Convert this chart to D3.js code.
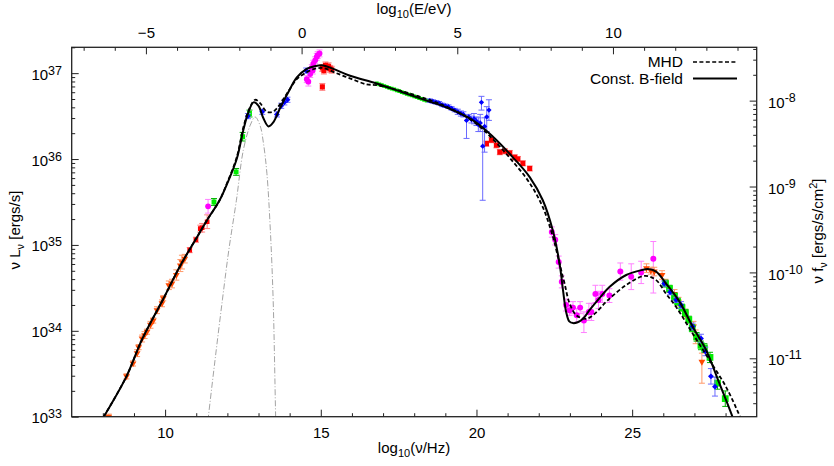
<!DOCTYPE html>
<html>
<head>
<meta charset="utf-8">
<script src="https://cdn.jsdelivr.net/npm/d3@7"></script>
<style>
  body { margin: 0; background: #fff; }
  text { font-family: "Liberation Sans", Arial, sans-serif; fill: #000; }
</style>
</head>
<body>
<svg id="chart" width="834" height="466"></svg>
<script>
// Crab nebula SED: log10(nu/Hz) vs log10(nu L_nu / erg s^-1)

const xDomain = [7, 29];
const yDomain = [1e33, 2e37];
const logHzPerEv = 14.3835;   // log10(eV/h)
const log4piD2 = 44.68;       // d = 2 kpc

// --- model curves (log nu, log nuLnu) ---
const constBNu = [8.03, 8.76, 9.26, 9.94, 10.49, 10.99, 11.35, 11.75, 12.0, 12.3, 12.52, 12.68, 12.84, 13.0, 13.15, 13.32, 13.48, 13.7, 13.96, 14.23, 14.55, 14.8, 15.08, 15.4, 15.94, 16.79, 17.6, 18.4, 19.04, 19.89, 20.53, 21.17, 21.71, 22.13, 22.45, 22.67, 22.78, 22.88, 22.98, 23.10, 23.25, 23.42, 23.63, 23.95, 24.27, 24.81, 25.34, 25.50, 25.77, 26.09, 26.52, 26.94, 27.37, 27.80, 28.22, 28.4];
const constBL  = [33.0, 33.47, 33.9, 34.37, 34.76, 35.07, 35.29, 35.52, 35.72, 36.0, 36.35, 36.55, 36.66, 36.62, 36.48, 36.38, 36.43, 36.60, 36.78, 36.95, 37.05, 37.08, 37.09, 37.05, 36.97, 36.88, 36.78, 36.68, 36.60, 36.45, 36.26, 36.02, 35.79, 35.52, 35.17, 34.78, 34.47, 34.22, 34.11, 34.09, 34.10, 34.14, 34.24, 34.38, 34.51, 34.65, 34.71, 34.72, 34.69, 34.55, 34.34, 34.05, 33.78, 33.39, 33.0, 32.8];

const mhdNu = [8.03, 8.76, 9.26, 9.94, 10.49, 10.99, 11.35, 11.75, 12.0, 12.3, 12.52, 12.7, 12.89, 13.05, 13.27, 13.45, 13.59, 13.91, 14.23, 14.55, 14.8, 15.08, 15.5, 16.0, 16.47, 16.8, 17.6, 18.4, 19.04, 19.89, 20.53, 21.17, 21.71, 22.13, 22.45, 22.67, 22.83, 22.99, 23.21, 23.53, 23.8, 24.2, 24.8, 25.4, 25.77, 26.09, 26.41, 26.94, 27.48, 28.01, 28.44, 28.6];
const mhdL  = [33.0, 33.47, 33.9, 34.37, 34.76, 35.07, 35.29, 35.52, 35.73, 36.02, 36.38, 36.58, 36.69, 36.65, 36.55, 36.55, 36.59, 36.76, 36.93, 37.01, 37.05, 37.06, 37.0, 36.93, 36.87, 36.86, 36.79, 36.70, 36.61, 36.44, 36.23, 35.97, 35.72, 35.44, 35.10, 34.78, 34.55, 34.32, 34.18, 34.14, 34.2, 34.35, 34.53, 34.64, 34.59, 34.43, 34.28, 33.97, 33.66, 33.35, 33.02, 32.88];

const dustNu = [11.3, 11.39, 11.6, 11.84, 12.05, 12.29, 12.51, 12.73, 12.89, 13.05, 13.16, 13.27, 13.38, 13.47, 13.55, 13.6];
const dustL  = [32.7, 33.0, 33.65, 34.36, 34.95, 35.52, 36.1, 36.39, 36.49, 36.39, 36.18, 35.83, 35.17, 34.36, 33.0, 32.2];

// --- observations: [log nu, log nuLnu, err down (dex), err up (dex)] ---
const radioOrange = [[8.19,33.0,0.03,0.03],[8.76,33.47,0.03,0.03],[8.97,33.62,0.03,0.03],[9.10,33.74,0.04,0.04],[9.15,33.81,0.03,0.03],[9.26,33.91,0.04,0.04],[9.34,33.95,0.04,0.04],[9.42,33.99,0.03,0.03],[9.53,34.07,0.04,0.04],[9.62,34.12,0.03,0.03],[9.74,34.24,0.04,0.04],[9.90,34.32,0.04,0.04],[9.94,34.38,0.03,0.03],[10.12,34.53,0.05,0.05],[10.22,34.55,0.05,0.05],[10.36,34.65,0.06,0.06],[10.49,34.76,0.07,0.07],[10.54,34.80,0.08,0.08],[10.63,34.84,0.05,0.05]];
const radioRed = [[10.79,34.94,0.03,0.03],[10.99,35.06,0.03,0.03],[11.13,35.19,0.04,0.04],[11.19,35.20,0.05,0.05],[11.35,35.27,0.08,0.08]];
const opticalRed = [[15.05,37.06,0.04,0.04],[15.10,37.03,0.04,0.04],[15.15,37.09,0.04,0.04],[15.20,37.07,0.04,0.04],[15.25,37.08,0.04,0.04],[15.30,37.05,0.04,0.04],[15.35,37.04,0.04,0.04],[15.05,36.84,0.04,0.04]];
const hardXRed = [[20.32,36.18,0.03,0.03],[20.48,36.22,0.03,0.03],[20.64,36.16,0.03,0.03],[20.75,36.08,0.03,0.03],[20.91,36.09,0.03,0.03],[21.07,36.07,0.03,0.03],[21.23,36.02,0.03,0.03],[21.33,36.00,0.03,0.03],[21.49,35.95,0.03,0.03],[21.71,35.89,0.03,0.03]];
const magentaIR = [[11.38,35.45,0.08,0.08]];
const magentaOpt = [[14.55,36.93,0.04,0.04],[14.60,36.90,0.05,0.05],[14.66,36.99,0.04,0.04],[14.71,37.06,0.04,0.04],[14.74,37.03,0.04,0.04],[14.76,37.11,0.04,0.04],[14.82,37.15,0.04,0.04],[14.87,37.19,0.04,0.04],[14.90,37.21,0.04,0.04],[14.96,37.23,0.04,0.04]];
const magentaGamma = [[22.42,35.15,0.06,0.06],[22.53,35.06,0.06,0.06],[22.64,34.80,0.07,0.07],[22.74,34.57,0.07,0.07],[22.88,34.30,0.07,0.07],[22.99,34.24,0.06,0.06],[23.10,34.27,0.07,0.07],[23.22,34.18,0.08,0.08],[23.33,34.27,0.07,0.07],[23.45,34.12,0.14,0.1],[23.61,34.22,0.1,0.1],[23.69,34.22,0.1,0.1],[23.82,34.43,0.1,0.1],[23.92,34.36,0.1,0.1],[24.04,34.43,0.1,0.1],[24.27,34.41,0.08,0.08],[24.62,34.69,0.1,0.1],[24.97,34.63,0.15,0.15],[25.29,34.68,0.13,0.13],[25.68,34.84,0.4,0.2]];
const greenIR = [[11.57,35.50,0.04,0.04],[12.28,35.85,0.04,0.04],[12.49,36.26,0.05,0.05],[12.71,36.53,0.04,0.04]];
const greenSoftX = [[16.80,36.88],[16.88,36.87],[16.96,36.86],[17.04,36.85],[17.12,36.84],[17.20,36.83],[17.28,36.82],[17.36,36.81],[17.44,36.80],[17.52,36.79],[17.60,36.78],[17.68,36.77],[17.76,36.76],[17.84,36.75],[17.92,36.74],[18.00,36.73],[18.08,36.72],[18.16,36.71],[18.24,36.70],[18.32,36.69],[18.40,36.68]];
const greenTeV = [[26.07,34.55,0.04,0.04],[26.20,34.49,0.04,0.04],[26.36,34.40,0.04,0.04],[26.46,34.34,0.04,0.04],[26.60,34.27,0.04,0.04],[26.71,34.21,0.04,0.04],[26.82,34.13,0.04,0.04],[26.93,34.03,0.04,0.04],[27.07,33.93,0.05,0.05],[27.21,33.83,0.05,0.05],[27.32,33.80,0.05,0.05],[27.50,33.69,0.06,0.06],[27.74,33.39,0.07,0.07],[27.99,33.21,0.09,0.09]];
const blueOpt = [[12.66,36.50,0.03,0.03],[13.12,36.55,0.03,0.03],[13.59,36.52,0.03,0.03],[13.73,36.62,0.03,0.03],[13.83,36.66,0.03,0.03],[13.93,36.69,0.03,0.03],[14.53,37.03,0.03,0.03]];
const blueX = [[18.50,36.68,0.02,0.02],[18.60,36.67,0.02,0.02],[18.70,36.66,0.02,0.02],[18.80,36.65,0.02,0.02],[18.90,36.63,0.02,0.02],[19.00,36.62,0.02,0.02],[19.10,36.61,0.02,0.02],[19.20,36.59,0.02,0.02],[19.30,36.57,0.02,0.02],[19.40,36.55,0.03,0.03],[19.50,36.53,0.03,0.03],[19.58,36.52,0.03,0.03],[19.68,36.45,0.21,0.05],[19.75,36.49,0.03,0.03],[19.84,36.46,0.04,0.04],[19.92,36.47,0.06,0.06],[20.00,36.44,0.05,0.05],[20.06,36.40,0.08,0.08],[20.12,36.42,0.1,0.1],[20.16,36.66,0.09,0.07],[20.20,36.15,0.63,0.23],[20.26,36.38,0.3,0.1],[20.33,36.49,0.17,0.12],[20.40,36.57,0.12,0.12]];
const orangeTeV = [[25.46,34.73,0.05,0.05],[25.60,34.70,0.04,0.04],[25.71,34.69,0.05,0.05],[25.96,34.65,0.05,0.05],[26.07,34.56,0.04,0.04],[26.36,34.43,0.05,0.05],[26.49,34.34,0.05,0.05],[26.71,34.20,0.05,0.05],[26.97,34.05,0.06,0.06],[27.04,33.93,0.08,0.08],[27.24,33.64,0.25,0.1]];
const blueTeV = [[26.03,34.55,0.03,0.03],[26.22,34.45,0.03,0.03],[26.41,34.36,0.03,0.03],[26.57,34.30,0.04,0.04],[26.94,34.05,0.04,0.04],[27.21,33.91,0.05,0.05],[27.35,33.76,0.05,0.05],[27.53,33.47,0.09,0.09],[27.66,33.35,0.11,0.11]];

const bottomMajor = [10, 15, 20, 25];
const topMajor = [-5, 0, 5, 10];
const leftMajorExp = [33, 34, 35, 36, 37];
const rightMajorExp = [-11, -10, -9, -8];

// --- layout ---
const plot = { left: 71.7, right: 756.7, top: 47.3, bottom: 416.7 };
const svg = d3.select("#chart");

const x = d3.scaleLinear().domain(xDomain).range([plot.left, plot.right]);
const y = d3.scaleLog().domain(yDomain).range([plot.bottom, plot.top]);
const xTop = d3.scaleLinear().domain(xDomain.map(v => v - logHzPerEv)).range([plot.left, plot.right]);
const yRight = d3.scaleLog().domain(yDomain.map(v => v / Math.pow(10, log4piD2))).range([plot.bottom, plot.top]);

const logMinors = (scale, e0, e1) => {
  const [lo, hi] = scale.domain();
  const out = [];
  for (let e = e0; e <= e1; e++)
    for (let m = 2; m <= 9; m++) {
      const v = m * Math.pow(10, e);
      if (v > lo && v < hi * 1.0001) out.push(v);
    }
  return out;
};

const styleAxis = g => {
  g.select(".domain").remove();
  g.selectAll("line").attr("stroke", "#222").attr("stroke-width", 1);
  g.selectAll("text").style("font-size", "15px").attr("fill", "#000");
};

// bottom axis
svg.append("g").attr("transform", `translate(0,${plot.bottom})`)
  .call(d3.axisBottom(x).tickValues(bottomMajor).tickSize(-7).tickPadding(11).tickFormat(d3.format("d")))
  .call(styleAxis);
svg.append("g").attr("transform", `translate(0,${plot.bottom})`)
  .call(d3.axisBottom(x).tickValues(d3.range(8, 29).filter(v => !bottomMajor.includes(v))).tickSize(-3.5).tickFormat(""))
  .call(styleAxis);

// top axis
svg.append("g").attr("transform", `translate(0,${plot.top})`)
  .call(d3.axisTop(xTop).tickValues(topMajor).tickSize(-7).tickPadding(9).tickFormat(d3.format("d")))
  .call(styleAxis);
svg.append("g").attr("transform", `translate(0,${plot.top})`)
  .call(d3.axisTop(xTop).tickValues(d3.range(-7, 15).filter(v => !topMajor.includes(v))).tickSize(-3.5).tickFormat(""))
  .call(styleAxis);

// left axis
svg.append("g").attr("transform", `translate(${plot.left},0)`)
  .call(d3.axisLeft(y).tickValues(leftMajorExp.map(e => Math.pow(10, e))).tickSize(-7).tickFormat(""))
  .call(styleAxis);
svg.append("g").attr("transform", `translate(${plot.left},0)`)
  .call(d3.axisLeft(y).tickValues(logMinors(y, 33, 37)).tickSize(-3.5).tickFormat(""))
  .call(styleAxis);

// right axis
svg.append("g").attr("transform", `translate(${plot.right},0)`)
  .call(d3.axisRight(yRight).tickValues(rightMajorExp.map(e => Math.pow(10, e))).tickSize(-7).tickFormat(""))
  .call(styleAxis);
svg.append("g").attr("transform", `translate(${plot.right},0)`)
  .call(d3.axisRight(yRight).tickValues(logMinors(yRight, -12, -8)).tickSize(-3.5).tickFormat(""))
  .call(styleAxis);

// power-of-ten labels
leftMajorExp.forEach(e => {
  const t = svg.append("text")
    .attr("x", 62).attr("y", y(Math.pow(10, e)) + 6.5)
    .attr("text-anchor", "end").style("font-size", "15px");
  t.append("tspan").text("10");
  t.append("tspan").attr("dy", -5).style("font-size", "12.5px").text(e);
});
rightMajorExp.forEach(e => {
  const t = svg.append("text")
    .attr("x", 768).attr("y", yRight(Math.pow(10, e)) + 7.2)
    .style("font-size", "15px");
  t.append("tspan").text("10");
  t.append("tspan").attr("dy", -6).style("font-size", "12.5px").text(e);
});

// axis titles
const title = (tx, ty, rot, parts) => {
  const t = svg.append("text")
    .attr("transform", `translate(${tx},${ty}) rotate(${rot})`)
    .attr("text-anchor", "middle").style("font-size", "15px");
  let shift = 0;
  parts.forEach(([s, kind]) => {
    const dy = kind === "sub" ? 4 : kind === "sup" ? -6 : 0;
    t.append("tspan").attr("dy", dy - shift)
      .style("font-size", kind ? "11px" : "15px").text(s);
    shift = dy;
  });
};
title(414, 453, 0, [["log"], ["10", "sub"], ["(\u03bd/Hz)"]]);
title(414, 13.5, 0, [["log"], ["10", "sub"], ["(E/eV)"]]);
title(19.5, 230, -90, [["\u03bd L"], ["\u03bd", "sub"], [" [ergs/s]"]]);
title(823, 231, -90, [["\u03bd f"], ["\u03bd", "sub"], [" [ergs/s/cm"], ["2", "sup"], ["]"]]);

// --- plot content ---
svg.append("clipPath").attr("id", "clip")
  .append("rect")
  .attr("x", plot.left).attr("y", plot.top)
  .attr("width", plot.right - plot.left).attr("height", plot.bottom - plot.top);
const inner = svg.append("g").attr("clip-path", "url(#clip)");

const line = d3.line()
  .x(d => x(d[0]))
  .y(d => y(Math.pow(10, d[1])))
  .curve(d3.curveCatmullRom.alpha(0.5));

inner.append("path").datum(d3.zip(dustNu, dustL))
  .attr("d", line).attr("fill", "none")
  .attr("stroke", "#999").attr("stroke-width", 0.9).attr("stroke-dasharray", "6,2,1,2");

const series = [
  { pts: radioOrange, color: "#ff4a00", bar: "#ff9a6a", shape: d3.symbolTriangle, size: 20, rot: 180 },
  { pts: radioRed, color: "#ff0000", bar: "#ff8080", shape: d3.symbolSquare, size: 22 },
  { pts: opticalRed, color: "#ff0000", bar: "#ff8080", shape: d3.symbolSquare, size: 26 },
  { pts: hardXRed, color: "#ff0000", bar: "#ff8080", shape: d3.symbolSquare, size: 26 },
  { pts: magentaIR, color: "#ff00ff", bar: "#ff80ff", shape: d3.symbolCircle, size: 26 },
  { pts: magentaOpt, color: "#ff00ff", bar: "#ff80ff", shape: d3.symbolCircle, size: 26 },
  { pts: magentaGamma, color: "#ff00ff", bar: "#ff80ff", shape: d3.symbolCircle, size: 28 },
  { pts: greenIR, color: "#00ee00", bar: "#00b000", shape: d3.symbolSquare, size: 24 },
  { pts: greenSoftX, color: "#00ee00", bar: "#00ee00", shape: d3.symbolSquare, size: 14 },
  { pts: blueOpt, color: "#0000ff", bar: "#7070ff", shape: d3.symbolDiamond2, size: 22 },
  { pts: blueX, color: "#0000ff", bar: "#6a6aff", shape: d3.symbolDiamond2, size: 18 },
  { pts: orangeTeV, color: "#ff4a00", bar: "#ff9a6a", shape: d3.symbolTriangle, size: 20, rot: 180 },
  { pts: greenTeV, color: "#00ee00", bar: "#00b000", shape: d3.symbolSquare, size: 46 },
  { pts: blueTeV, color: "#0000ff", bar: "#6a6aff", shape: d3.symbolDiamond2, size: 22 }
];

series.forEach(s => {
  const g = inner.append("g");
  const withErr = s.pts.filter(p => p.length > 2);
  const bars = g.selectAll(".bar").data(withErr).enter().append("g")
    .attr("stroke", s.bar).attr("stroke-width", 1);
  bars.append("line")
    .attr("x1", d => x(d[0])).attr("x2", d => x(d[0]))
    .attr("y1", d => y(Math.pow(10, d[1] - d[2]))).attr("y2", d => y(Math.pow(10, d[1] + d[3])));
  bars.append("line")
    .attr("x1", d => x(d[0]) - 3).attr("x2", d => x(d[0]) + 3)
    .attr("y1", d => y(Math.pow(10, d[1] - d[2]))).attr("y2", d => y(Math.pow(10, d[1] - d[2])));
  bars.append("line")
    .attr("x1", d => x(d[0]) - 3).attr("x2", d => x(d[0]) + 3)
    .attr("y1", d => y(Math.pow(10, d[1] + d[3]))).attr("y2", d => y(Math.pow(10, d[1] + d[3])));
  g.selectAll(".pt").data(s.pts).enter().append("path")
    .attr("d", d3.symbol().type(s.shape).size(s.size))
    .attr("transform", d => `translate(${x(d[0])},${y(Math.pow(10, d[1]))}) rotate(${s.rot || 0})`)
    .attr("fill", s.color);
});

inner.append("path").datum(d3.zip(mhdNu, mhdL))
  .attr("d", line).attr("fill", "none")
  .attr("stroke", "#000").attr("stroke-width", 1.8).attr("stroke-dasharray", "4,2.4");
inner.append("path").datum(d3.zip(constBNu, constBL))
  .attr("d", line).attr("fill", "none")
  .attr("stroke", "#000").attr("stroke-width", 2);

// frame
svg.append("rect")
  .attr("x", plot.left).attr("y", plot.top)
  .attr("width", plot.right - plot.left).attr("height", plot.bottom - plot.top)
  .attr("fill", "none").attr("stroke", "#222").attr("stroke-width", 1.3);

// --- legend ---
const legendItems = [
  { label: "MHD", dash: "4,2.4", y: 62 },
  { label: "Const. B-field", dash: null, y: 78.5 }
];
const legend = svg.selectAll(".legend").data(legendItems).enter().append("g");
legend.append("text")
  .attr("x", 683).attr("y", d => d.y + 5)
  .attr("text-anchor", "end").style("font-size", "15.5px")
  .text(d => d.label);
legend.append("line")
  .attr("x1", 693).attr("x2", 737)
  .attr("y1", d => d.y).attr("y2", d => d.y)
  .attr("stroke", "#000").attr("stroke-width", d => d.dash ? 1.6 : 1.8)
  .attr("stroke-dasharray", d => d.dash);
</script>
</body>
</html>
